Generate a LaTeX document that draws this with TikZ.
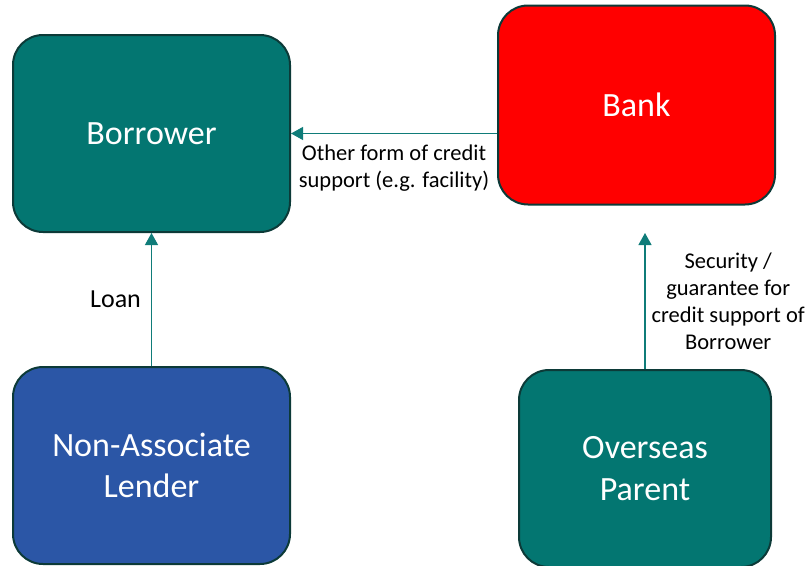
\documentclass[tikz,border=0pt]{standalone}
\usepackage{fontspec}
\setmainfont{Carlito}
\usetikzlibrary{positioning,arrows.meta}
\definecolor{tealbox}{HTML}{037671}
\definecolor{bluebox}{HTML}{2B56A6}
\definecolor{edgedark}{HTML}{0C3A38}
\definecolor{arrowteal}{HTML}{0F7C79}

\begin{document}
\begin{tikzpicture}[x=1pt, y=-1pt,
        party/.style={draw=edgedark, line width=2pt, rounded corners=30pt, minimum width=277pt, minimum height=197pt, text=white, align=center, font=\fontsize{34}{41.5}\selectfont},
        flow/.style={draw=arrowteal, line width=1.2pt, -{Triangle[length=12pt,width=13pt]}},
        note/.style={align=center, inner sep=2pt, font=\fontsize{22.5}{27}\selectfont}]
        \useasboundingbox (0,0) rectangle (805,565);
        \node[party, fill=tealbox] (borrower) at (151.5,133.5) {Borrower};
        \node[party, fill=red, minimum height=199pt] (bank) at (636.5,105) {Bank};
        \node[party, fill=bluebox, below=133pt of borrower] (lender) {Non-Associate\\Lender};
        \node[party, fill=tealbox, minimum width=252pt] (parent) at (645,468.5) {Overseas\\Parent};
        \coordinate[above=136pt of parent.north] (bankin);
        \draw[flow] (bank.west |- borrower.east) -- node[note, below=9pt] {Other form of credit\\support (e.g. facility)} (borrower.east);
        \draw[flow] (lender.north) -- node[note, left=8pt, font=\fontsize{26}{31}\selectfont] {Loan} (borrower.south);
        \draw[flow] (parent.north) -- node[note, right=4pt] {Security /\\guarantee for\\credit support of\\Borrower} (bankin);
    \end{tikzpicture}
\end{document}
